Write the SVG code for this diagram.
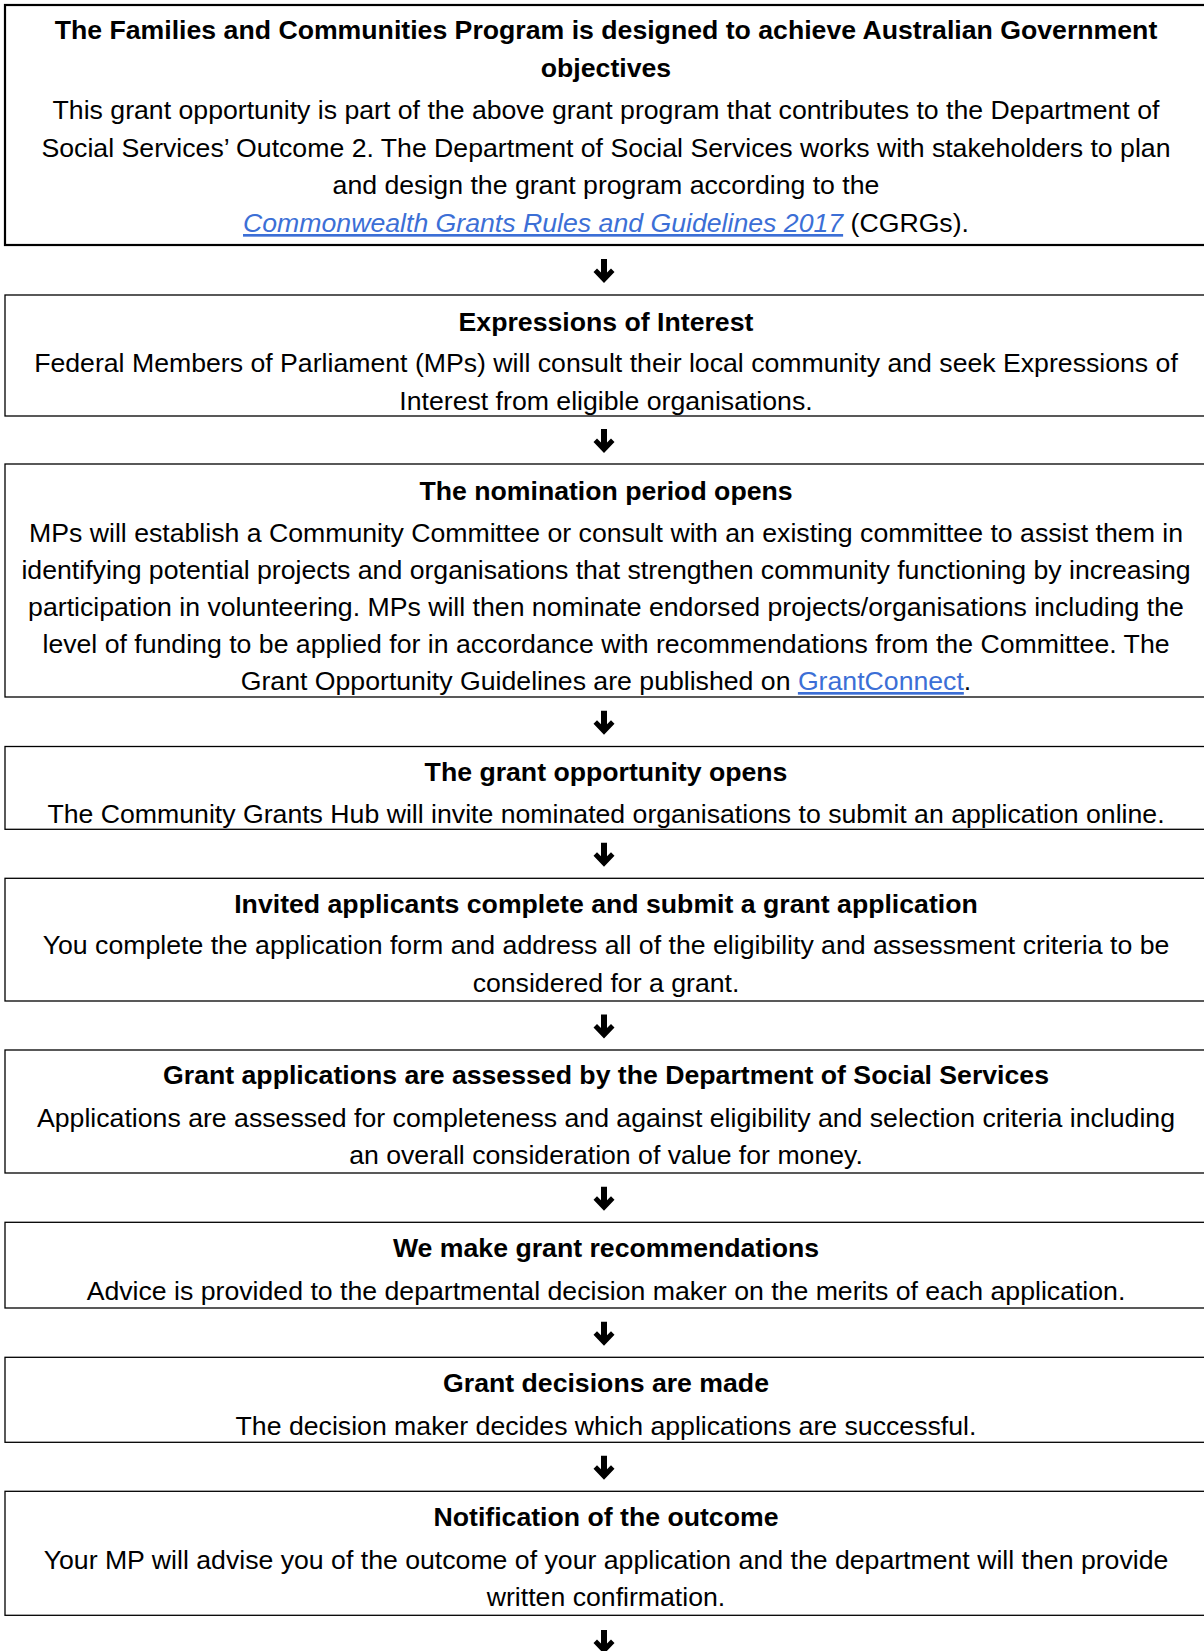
<svg xmlns="http://www.w3.org/2000/svg" xmlns:xlink="http://www.w3.org/1999/xlink" width="1204" height="1651" viewBox="0 0 1204 1651">
<style>
text{font-family:"Liberation Sans",Arial,sans-serif;font-size:26.67px;fill:#000;text-anchor:middle}
.t{font-weight:bold}
.box{fill:#fff;stroke:#000;stroke-width:1.3}
.box1{fill:#fff;stroke:#000;stroke-width:2.2}
.lnk{fill:#3c6fd6;text-decoration:underline}
.arr{fill:#000}
</style>
<defs>
<path id="arr" d="M-3,0 H3 V13.5 L7,9.5 L10.5,13 L0,24 L-10.5,13 L-7,9.5 L-3,13.5 Z"/>
</defs>
<rect width="1204" height="1651" fill="#fff"/>

<g id="n1">
<rect class="box1" x="5" y="5" width="1205" height="240"/>
<text class="t" x="606" y="39.3">The Families and Communities Program is designed to achieve Australian Government</text>
<text class="t" x="606" y="77.3">objectives</text>
<text x="606" y="119">This grant opportunity is part of the above grant program that contributes to the Department of</text>
<text x="606" y="156.7">Social Services’ Outcome 2. The Department of Social Services works with stakeholders to plan</text>
<text x="606" y="194.3">and design the grant program according to the</text>
<text x="606" y="232"><tspan class="lnk" font-style="italic">Commonwealth Grants Rules and Guidelines 2017</tspan> (CGRGs).</text>
</g>

<g id="n2">
<rect class="box" x="5" y="295" width="1205" height="121"/>
<text class="t" x="606" y="330.5">Expressions of Interest</text>
<text x="606" y="372.3">Federal Members of Parliament (MPs) will consult their local community and seek Expressions of</text>
<text x="606" y="410">Interest from eligible organisations.</text>
</g>

<g id="n3">
<rect class="box" x="5" y="464" width="1205" height="233"/>
<text class="t" x="606" y="500">The nomination period opens</text>
<text x="606" y="541.7">MPs will establish a Community Committee or consult with an existing committee to assist them in</text>
<text x="606" y="578.5">identifying potential projects and organisations that strengthen community functioning by increasing</text>
<text x="606" y="615.5">participation in volunteering. MPs will then nominate endorsed projects/organisations including the</text>
<text x="606" y="652.7">level of funding to be applied for in accordance with recommendations from the Committee. The</text>
<text x="606" y="690">Grant Opportunity Guidelines are published on <tspan class="lnk">GrantConnect</tspan>.</text>
</g>

<g id="n4">
<rect class="box" x="5" y="746.5" width="1205" height="82.8"/>
<text class="t" x="606" y="781">The grant opportunity opens</text>
<text x="606" y="822.7">The Community Grants Hub will invite nominated organisations to submit an application online.</text>
</g>

<g id="n5">
<rect class="box" x="5" y="878.3" width="1205" height="122.7"/>
<text class="t" x="606" y="912.8">Invited applicants complete and submit a grant application</text>
<text x="606" y="954">You complete the application form and address all of the eligibility and assessment criteria to be</text>
<text x="606" y="991.5">considered for a grant.</text>
</g>

<g id="n6">
<rect class="box" x="5" y="1050" width="1205" height="123"/>
<text class="t" x="606" y="1083.7">Grant applications are assessed by the Department of Social Services</text>
<text x="606" y="1126.7">Applications are assessed for completeness and against eligibility and selection criteria including</text>
<text x="606" y="1164">an overall consideration of value for money.</text>
</g>

<g id="n7">
<rect class="box" x="5" y="1222.3" width="1205" height="85.7"/>
<text class="t" x="606" y="1257.3">We make grant recommendations</text>
<text x="606" y="1299.5">Advice is provided to the departmental decision maker on the merits of each application.</text>
</g>

<g id="n8">
<rect class="box" x="5" y="1357.3" width="1205" height="85"/>
<text class="t" x="606" y="1392">Grant decisions are made</text>
<text x="606" y="1434.5">The decision maker decides which applications are successful.</text>
</g>

<g id="n9">
<rect class="box" x="5" y="1491.3" width="1205" height="124"/>
<text class="t" x="606" y="1526.3">Notification of the outcome</text>
<text x="606" y="1568.5">Your MP will advise you of the outcome of your application and the department will then provide</text>
<text x="606" y="1605.8">written confirmation.</text>
</g>

<g id="connectors" class="arr">
<use xlink:href="#arr" x="604" y="259"/>
<use xlink:href="#arr" x="604" y="429"/>
<use xlink:href="#arr" x="604" y="710.7"/>
<use xlink:href="#arr" x="604" y="842.8"/>
<use xlink:href="#arr" x="604" y="1014.5"/>
<use xlink:href="#arr" x="604" y="1186.7"/>
<use xlink:href="#arr" x="604" y="1321.7"/>
<use xlink:href="#arr" x="604" y="1455.8"/>
<use xlink:href="#arr" x="604" y="1630"/>
</g>
</svg>
